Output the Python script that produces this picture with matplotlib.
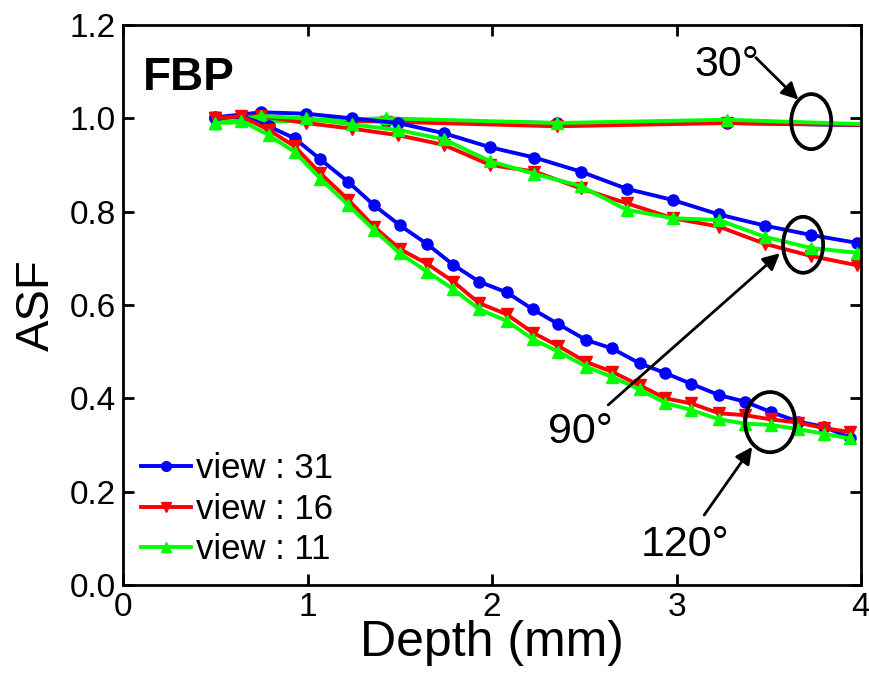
import matplotlib
matplotlib.use('Agg')
import matplotlib.pyplot as plt
from matplotlib.patches import Ellipse
from matplotlib.lines import Line2D

plt.rcParams['font.family'] = ['Liberation Sans', 'DejaVu Sans']

# depth positions (mm) for each tilt angle
x30 = [0.50, 1.425, 2.35, 3.275, 4.20]
x90 = [0.50, 0.75, 0.99, 1.24, 1.49, 1.74, 1.99, 2.23, 2.48, 2.73, 2.98, 3.23, 3.48, 3.73, 3.98]
x120 = [0.50, 0.64, 0.79, 0.93, 1.07, 1.22, 1.36, 1.50, 1.65, 1.79, 1.93, 2.08, 2.22,
        2.36, 2.51, 2.65, 2.80, 2.94, 3.08, 3.23, 3.37, 3.51, 3.66, 3.80, 3.94]

# ASF values: 30 degree
v31_30 = [1.000, 0.995, 0.990, 0.990, 0.984]
v16_30 = [1.000, 0.993, 0.983, 0.990, 0.985]
v11_30 = [0.990, 1.000, 0.990, 0.997, 0.985]

# 90 degree
v31_90 = [1.002, 1.013, 1.010, 1.000, 0.990, 0.968, 0.938, 0.916, 0.886, 0.849, 0.825, 0.794, 0.770, 0.750, 0.733]
v16_90 = [1.000, 1.005, 0.990, 0.978, 0.964, 0.943, 0.900, 0.886, 0.850, 0.818, 0.786, 0.768, 0.731, 0.705, 0.685]
v11_90 = [0.990, 1.005, 1.000, 0.987, 0.975, 0.955, 0.908, 0.881, 0.855, 0.804, 0.786, 0.782, 0.746, 0.722, 0.712]

# 120 degree
v31_120 = [1.000, 1.005, 0.983, 0.957, 0.912, 0.864, 0.814, 0.771, 0.730, 0.686, 0.650, 0.627, 0.591,
           0.559, 0.525, 0.507, 0.475, 0.454, 0.431, 0.407, 0.393, 0.371, 0.350, 0.339, 0.316]
v16_120 = [1.000, 1.005, 0.975, 0.940, 0.882, 0.826, 0.768, 0.720, 0.688, 0.650, 0.604, 0.580, 0.541,
           0.512, 0.478, 0.457, 0.428, 0.400, 0.389, 0.368, 0.364, 0.355, 0.348, 0.336, 0.328]
v11_120 = [0.990, 0.995, 0.964, 0.928, 0.871, 0.814, 0.761, 0.711, 0.671, 0.634, 0.591, 0.566, 0.527,
           0.500, 0.468, 0.446, 0.419, 0.390, 0.375, 0.355, 0.346, 0.343, 0.334, 0.324, 0.314]

labels = ['view : 31', 'view : 16', 'view : 11']
colors = ['#0000ff', '#ff0000', '#00ff00']
markers = ['o', 'v', '^']

fig = plt.figure(figsize=(8.7, 6.76), dpi=100)
ax = fig.add_axes([0.1414, 0.1346, 0.8483, 0.8284])

groups = [
    (x30, [v31_30, v16_30, v11_30]),
    (x90, [v31_90, v16_90, v11_90]),
    (x120, [v31_120, v16_120, v11_120]),
]
for xs, series in groups:
    for ys, c, m in zip(series, colors, markers):
        ax.plot(xs, ys, color=c, marker=m, lw=2.8, ms=8, mec=c, mfc=c)

ax.set_xlim(0, 4)
ax.set_ylim(0, 1.2)
ax.set_xticks([0, 1, 2, 3, 4])
ax.set_yticks([0, 0.2, 0.4, 0.6, 0.8, 1.0, 1.2])
ax.set_xticklabels(['0', '1', '2', '3', '4'])
ax.set_yticklabels(['0.0', '0.2', '0.4', '0.6', '0.8', '1.0', '1.2'])
ax.tick_params(direction='in', length=8, width=2, labelsize=24, top=True, right=True, pad=5)
for sp in ax.spines.values():
    sp.set_linewidth(2)

ax.set_xlabel('Depth (mm)', fontsize=36, labelpad=-2)
ax.set_ylabel('ASF', fontsize=34, labelpad=8)

ax.text(0.027, 0.905, 'FBP', transform=ax.transAxes, fontsize=33, fontweight='bold', va='center')

# legend
handles = [Line2D([], [], color=c, marker=m, lw=2.8, ms=7, mec=c, mfc=c) for c, m in zip(colors, markers)]
ax.legend(handles, labels, loc='upper left', bbox_to_anchor=(0.005, 0.262), frameon=False,
          fontsize=25, handlelength=1.45, handletextpad=0.15, labelspacing=0.22, borderaxespad=0)

# ellipses marking each angle group
for cx, cy, w, h in [(3.73, 0.993, 0.217, 0.118), (3.686, 0.729, 0.217, 0.12), (3.507, 0.349, 0.271, 0.129)]:
    ax.add_patch(Ellipse((cx, cy), w, h, fill=False, ec='k', lw=2.7, zorder=5))

arrow = dict(arrowstyle='-|>', color='k', lw=2, mutation_scale=25, shrinkA=0, shrinkB=0)
ax.annotate('', xy=(3.66, 1.04), xytext=(3.43, 1.13), arrowprops=arrow)
ax.annotate('', xy=(3.56, 0.711), xytext=(2.63, 0.386), arrowprops=arrow)
ax.annotate('', xy=(3.41, 0.296), xytext=(3.15, 0.15), arrowprops=arrow)

ax.text(3.27, 1.114, '30°', fontsize=31, ha='center', va='center')
ax.text(2.477, 0.328, '90°', fontsize=31, ha='center', va='center')
ax.text(3.046, 0.086, '120°', fontsize=31, ha='center', va='center')

fig.savefig('out.png', dpi=100)
